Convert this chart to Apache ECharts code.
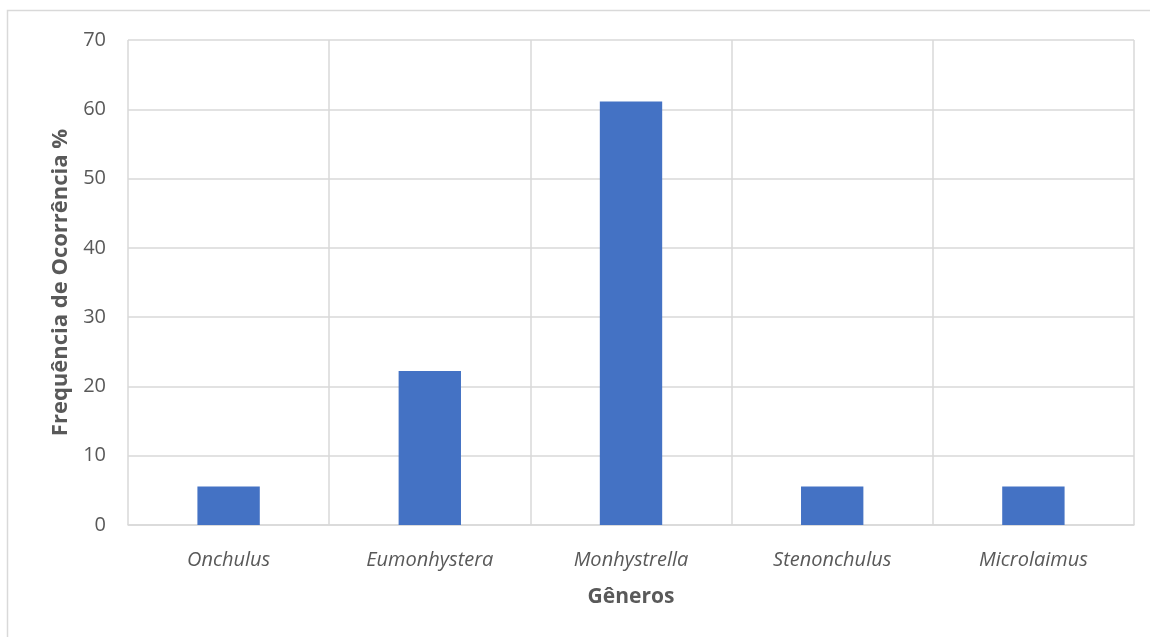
<!DOCTYPE html>
<html>
<head>
<meta charset="utf-8">
<style>
  html, body { margin: 0; padding: 0; background: #ffffff; }
  #chart { width: 1150px; height: 637px; }
</style>
<script src="https://cdn.jsdelivr.net/npm/echarts@6/dist/echarts.min.js"></script>
</head>
<body>
<div id="chart"></div>
<script>
// Nematode genera and their frequency of occurrence (%)
const generos = ['Onchulus', 'Eumonhystera', 'Monhystrella', 'Stenonchulus', 'Microlaimus'];
const frequencia = [5.56, 22.22, 61.11, 5.56, 5.56];
const yTicks = { min: 0, max: 70, interval: 10 };

const chart = echarts.init(document.getElementById('chart'));
const fontFamily = '"Open Sans", "Liberation Sans", sans-serif';
const textGray = '#595959';
const gridGray = '#d9d9d9';

chart.setOption({
  animation: false,
  graphic: [{
    type: 'rect',
    shape: { x: 7.5, y: 10.5, width: 1160, height: 640 },
    style: { fill: 'none', stroke: '#d9d9d9', lineWidth: 1.5 },
    silent: true
  }],
  grid: { left: 128, right: 16, top: 40, bottom: 112 },
  xAxis: {
    type: 'category',
    data: generos,
    name: 'Gêneros',
    nameLocation: 'middle',
    nameGap: 62,
    nameTextStyle: { fontFamily, fontSize: 21, fontWeight: 'bold', color: textGray },
    axisLine: { show: true, lineStyle: { color: gridGray, width: 1.5 } },
    axisTick: { show: false },
    axisLabel: { fontFamily, fontSize: 20, fontStyle: 'italic', color: textGray, margin: 25 },
    splitLine: { show: true, lineStyle: { color: gridGray, width: 1.5 } }
  },
  yAxis: {
    type: 'value',
    min: yTicks.min,
    max: yTicks.max,
    interval: yTicks.interval,
    name: 'Frequência de Ocorrência %',
    nameLocation: 'middle',
    nameGap: 56,
    nameTextStyle: { fontFamily, fontSize: 22, fontWeight: 'bold', color: textGray },
    axisLine: { show: false },
    axisTick: { show: false },
    axisLabel: { fontFamily, fontSize: 20, color: textGray, margin: 22 },
    splitLine: { show: true, lineStyle: { color: gridGray, width: 1.5 } }
  },
  series: [{
    type: 'bar',
    data: frequencia,
    barWidth: '31%',
    itemStyle: { color: '#4472c4' }
  }]
});
</script>
</body>
</html>
